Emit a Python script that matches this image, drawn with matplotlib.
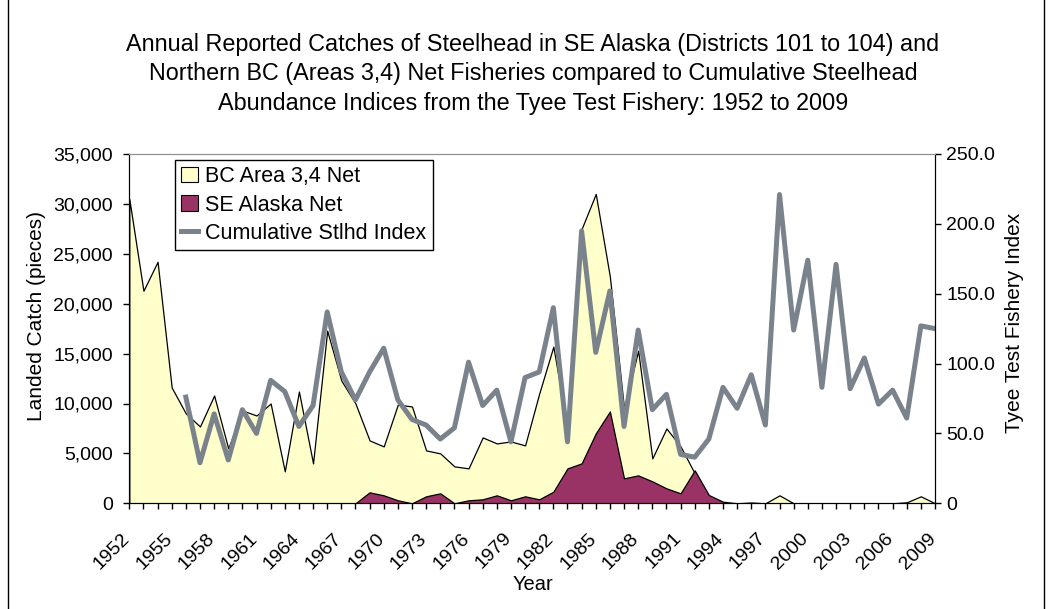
import numpy as np
import matplotlib
matplotlib.use('Agg')
import matplotlib.pyplot as plt
import matplotlib.transforms as mtransforms
from matplotlib.patches import Patch
from matplotlib.lines import Line2D
from matplotlib.ticker import FuncFormatter

plt.rcParams['font.family'] = ['Liberation Sans', 'DejaVu Sans']

# Years 1952-2009
years = list(range(1952, 2010))

# BC Area 3,4 net catch (pieces)
bc_net = [30500, 21300, 24200, 11600, 9000, 7700, 10800, 5500, 9300, 8800,
          10000, 3200, 11200, 4000, 17300, 12300, 10000, 6300, 5700, 9900,
          9700, 5300, 5000, 3700, 3500, 6600, 6000, 6200, 5800, 11000,
          15700, 7500, 27500, 31000, 22700, 9500, 15300, 4500, 7500, 5700,
          3000, 600, 0, 0, 0, 0, 800, 0, 0, 0,
          0, 0, 0, 0, 0, 100, 700, 0]

# SE Alaska net catch (pieces)
se_alaska = [0, 0, 0, 0, 0, 0, 0, 0, 0, 0,
             0, 0, 0, 0, 0, 0, 0, 1100, 800, 300,
             0, 700, 1000, 0, 300, 400, 800, 300, 700, 400,
             1160, 3500, 4000, 7000, 9200, 2500, 2800, 2200, 1500, 1000,
             3300, 830, 160, 0, 80, 0, 0, 0, 0, 0,
             0, 0, 0, 0, 0, 0, 0, 0]

# Cumulative steelhead index, Tyee test fishery (starts 1956)
stlhd_index = [np.nan, np.nan, np.nan, np.nan,
               76, 29, 64, 31, 67, 50, 88, 80, 55, 70,
               137, 94, 74, 94, 111, 74, 60, 56, 46, 54,
               101, 70, 81, 44, 90, 94, 140, 44, 195, 108,
               152, 55, 124, 67, 78, 35, 33, 46, 83, 68,
               92, 56, 221, 124, 174, 83, 171, 82, 104, 71,
               81, 61, 127, 125]

yellow = '#ffffcc'
purple = '#993366'
grey = '#7a838c'

fig = plt.figure(figsize=(10.5, 6.09), dpi=100)
W, H = 1050, 609
left, right, top, bottom = 129.3, 935, 154, 503.3
ax = fig.add_axes([left / W, 1 - bottom / H, (right - left) / W, (bottom - top) / H])

ax.fill_between(years, bc_net, 0, facecolor=yellow, edgecolor='black', linewidth=0.9)
ax.fill_between(years, se_alaska, 0, facecolor=purple, edgecolor='black', linewidth=0.9)
ax.set_xlim(1952, 2009)
ax.set_ylim(0, 35000)
ax.set_yticks(range(0, 35001, 5000))
ax.yaxis.set_major_formatter(FuncFormatter(lambda v, p: f'{int(v):,}'))
ax.set_xticks(years)
ax.set_xticklabels([str(y) if (y - 1952) % 3 == 0 else '' for y in years],
                   rotation=45, ha='right', va='top', rotation_mode='anchor')
ax.tick_params(axis='x', direction='out', length=4, width=1, pad=15, labelsize=14)
ax.tick_params(axis='y', direction='out', length=4, width=1, pad=8, labelsize=14)
shift = mtransforms.ScaledTranslation(-8 / 100, 0, fig.dpi_scale_trans)
for lab in ax.get_xticklabels():
    lab.set_transform(lab.get_transform() + shift)

ax2 = ax.twinx()
ax2.plot(years, stlhd_index, color=grey, linewidth=3.6)
ax2.set_ylim(0, 250)
ax2.set_yticks(range(0, 251, 50))
ax2.yaxis.set_major_formatter(FuncFormatter(lambda v, p: '0' if v == 0 else f'{v:.1f}'))
ax2.tick_params(axis='y', direction='out', length=4, width=1, pad=4, labelsize=14)

for a in (ax, ax2):
    a.spines['top'].set_color('#909090')
    a.spines['left'].set_color('black')
    a.spines['right'].set_color('black')
    a.spines['bottom'].set_color('black')

handles = [Patch(facecolor=yellow, edgecolor='black', linewidth=0.8),
           Patch(facecolor=purple, edgecolor='black', linewidth=0.8),
           Line2D([0], [0], color=grey, linewidth=3.6)]
labels = ['BC Area 3,4 Net', 'SE Alaska Net', 'Cumulative Stlhd Index']
leg = ax2.legend(handles, labels, loc='upper left',
                 bbox_to_anchor=((175 - left) / (right - left), (bottom - 160) / (bottom - top)),
                 fontsize=15.5, frameon=True, fancybox=False, framealpha=1,
                 edgecolor='black', borderaxespad=0, borderpad=0.3,
                 handlelength=0.75, handleheight=0.7, handletextpad=0.35,
                 labelspacing=0.33)
leg.get_frame().set_linewidth(1)

fig.text(533 / W, 1 - 33 / H,
         'Annual Reported Catches of Steelhead in SE Alaska (Districts 101 to 104) and\n'
         'Northern BC (Areas 3,4) Net Fisheries compared to Cumulative Steelhead\n'
         'Abundance Indices from the Tyee Test Fishery: 1952 to 2009',
         ha='center', va='top', fontsize=16.8, linespacing=1.36)
fig.text(533 / W, 1 - 585 / H, 'Year', ha='center', va='center', fontsize=14.5)
fig.text(37 / W, 1 - 316 / H, 'Landed Catch (pieces)', ha='center', va='center',
         rotation=90, fontsize=15)
fig.text(1015 / W, 1 - 323 / H, 'Tyee Test Fishery Index', ha='center', va='center',
         rotation=90, fontsize=15)

# chart border
fig.add_artist(Line2D([8 / W, 8 / W], [0, 1], color='black', linewidth=1,
                      transform=fig.transFigure))
fig.add_artist(Line2D([1044 / W, 1044 / W], [0, 1], color='black', linewidth=1,
                      transform=fig.transFigure))

fig.savefig('out.png', dpi=100)
